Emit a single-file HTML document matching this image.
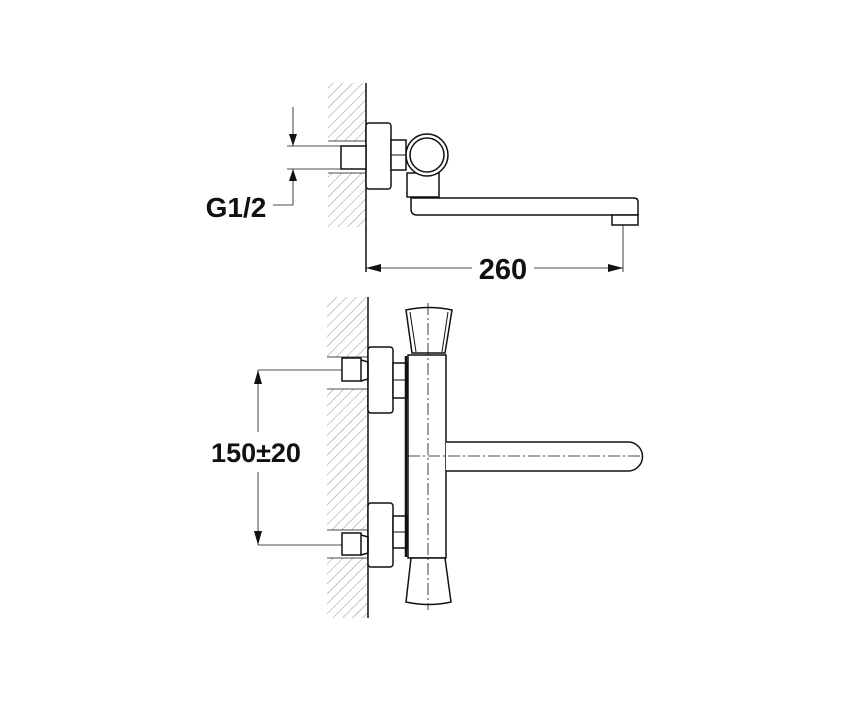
<!DOCTYPE html>
<html><head><style>
html,body{margin:0;padding:0;background:#fff;}
svg{display:block;}
text{font-family:"Liberation Sans",Arial,sans-serif;font-weight:bold;fill:#111;}
</style></head><body>
<svg width="850" height="702" viewBox="0 0 850 702" xmlns="http://www.w3.org/2000/svg">
<defs>
<pattern id="h" patternUnits="userSpaceOnUse" width="7" height="7" patternTransform="rotate(45)">
<line x1="0" y1="0" x2="0" y2="7" stroke="#777" stroke-width="0.8"/>
</pattern>
</defs>
<g fill="none" stroke="#111" stroke-width="1.5">
<rect x="328" y="83" width="38" height="58" fill="url(#h)" stroke="none"/>
<rect x="328" y="173" width="38" height="54" fill="url(#h)" stroke="none"/>
<line x1="366" y1="83" x2="366" y2="272"/>
<line x1="328" y1="141" x2="366" y2="141" stroke-width="0.8"/>
<line x1="328" y1="173" x2="366" y2="173" stroke-width="0.8"/>
<rect x="366" y="123" width="25" height="66" rx="3" fill="#fff"/>
<rect x="341" y="146" width="25" height="23" fill="#fff"/>
<rect x="391" y="140" width="15" height="30" fill="#fff"/>
<line x1="391" y1="155" x2="406" y2="155" stroke-width="1"/>
<rect x="407" y="173" width="32" height="24" fill="#fff"/>
<circle cx="427" cy="155" r="21" fill="#fff"/>
<circle cx="427" cy="155" r="17"/>
<path d="M411 198 H634 Q638 198 638 202 V215 H417 Q411 215 411 209 Z" fill="#fff"/>
<rect x="612" y="215" width="26" height="10" fill="#fff"/>
<g stroke-width="0.8">
<line x1="287" y1="146" x2="341" y2="146"/>
<line x1="287" y1="169" x2="341" y2="169"/>
<line x1="293" y1="107" x2="293" y2="146"/>
<line x1="293" y1="169" x2="293" y2="205"/>
<line x1="273" y1="205" x2="293" y2="205"/>
<line x1="623" y1="225" x2="623" y2="272"/>
<line x1="366" y1="268" x2="472" y2="268"/>
<line x1="534" y1="268" x2="623" y2="268"/>
</g>
<rect x="327" y="297" width="41" height="60" fill="url(#h)" stroke="none"/>
<rect x="327" y="389" width="41" height="141" fill="url(#h)" stroke="none"/>
<rect x="327" y="558" width="41" height="60" fill="url(#h)" stroke="none"/>
<line x1="368" y1="297" x2="368" y2="618"/>
<g stroke-width="0.8">
<line x1="327" y1="357" x2="368" y2="357"/>
<line x1="327" y1="389" x2="368" y2="389"/>
<line x1="327" y1="530" x2="368" y2="530"/>
<line x1="327" y1="558" x2="368" y2="558"/>
</g>
<rect x="368" y="347" width="25" height="66" rx="3" fill="#fff"/>
<rect x="342" y="358" width="19" height="23" fill="#fff"/>
<path d="M361 360 L368 362 V379 L361 381"/>
<rect x="393" y="363" width="14" height="35" fill="#fff"/>
<line x1="393" y1="380" x2="407" y2="380" stroke-width="1"/>
<rect x="368" y="503" width="25" height="64" rx="3" fill="#fff"/>
<rect x="342" y="533" width="19" height="22" fill="#fff"/>
<path d="M361 535 L368 537 V553 L361 555"/>
<rect x="393" y="516" width="14" height="32" fill="#fff"/>
<line x1="393" y1="532" x2="407" y2="532" stroke-width="1"/>
<line x1="406" y1="356" x2="406" y2="557" stroke-width="2.5"/>
<rect x="408" y="355" width="38" height="203" fill="#fff"/>
<path d="M406 310 Q429 305 452 310 L445 353 H412 Z" fill="#fff"/>
<path d="M410 312 L416 352 M448 312 L442 352" stroke-width="1"/>
<path d="M411 558 H445 L451 602 Q429 607 406 602 Z" fill="#fff"/>
<path d="M446 442 H628 A14.5 14.5 0 0 1 628 471 H446" fill="#fff"/>
<g stroke-width="0.8" stroke-dasharray="12,3,2,3">
<line x1="428" y1="303" x2="428" y2="610"/>
<line x1="408" y1="456" x2="640" y2="456"/>
</g>
<g stroke-width="0.8">
<line x1="258" y1="370" x2="342" y2="370"/>
<line x1="258" y1="545" x2="342" y2="545"/>
<line x1="258" y1="370" x2="258" y2="432"/>
<line x1="258" y1="472" x2="258" y2="545"/>
</g>
</g>
<g fill="#111">
<path d="M289 134 L297 134 L293 146 Z"/>
<path d="M289 181 L297 181 L293 169 Z"/>
<path d="M366 268 L381 264 L381 272 Z"/>
<path d="M623 268 L608 264 L608 272 Z"/>
<path d="M258 370 L254 384 L262 384 Z"/>
<path d="M258 545 L254 531 L262 531 Z"/>
</g>
<text x="236" y="217" font-size="28" text-anchor="middle">G1/2</text>
<text x="503" y="279" font-size="29" text-anchor="middle">260</text>
<text x="256" y="462" font-size="27" text-anchor="middle">150±20</text>
</svg>
</body></html>
